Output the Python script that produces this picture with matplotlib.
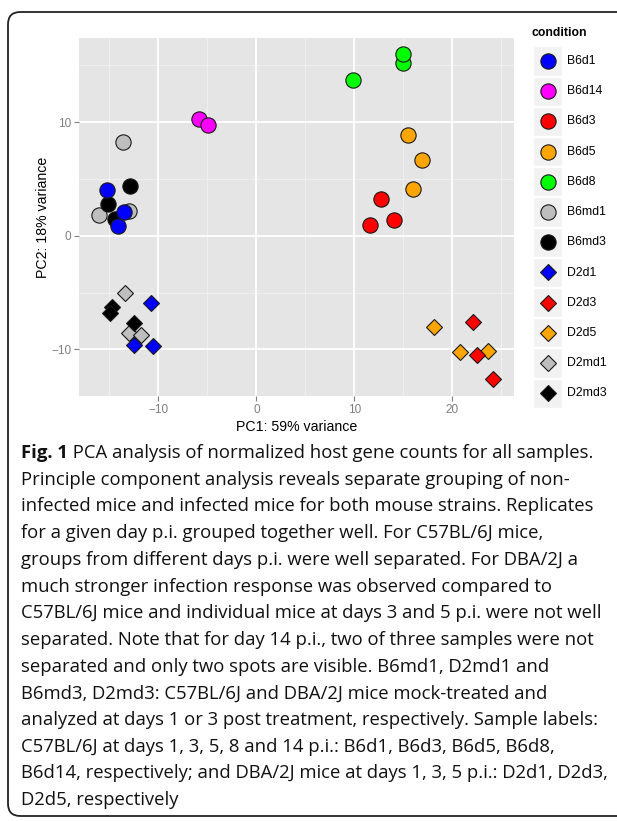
import matplotlib
matplotlib.use("Agg")
import matplotlib.pyplot as plt
from matplotlib.patches import FancyBboxPatch, Rectangle
import numpy as np

# ---------------- data ----------------
conditions = ["B6d1", "B6d14", "B6d3", "B6d5", "B6d8", "B6md1", "B6md3",
              "D2d1", "D2d3", "D2d5", "D2md1", "D2md3"]
colors = {"B6d1": "#0000FF", "B6d14": "#FF00FF", "B6d3": "#FF0000",
          "B6d5": "#FFA500", "B6d8": "#00FF00", "B6md1": "#BEBEBE",
          "B6md3": "#000000", "D2d1": "#0000FF", "D2d3": "#FF0000",
          "D2d5": "#FFA500", "D2md1": "#BEBEBE", "D2md3": "#000000"}
shapes = {c: ("o" if c.startswith("B6") else "D") for c in conditions}

pc1 = {
    "B6md1": [-13.6, -16.1, -13.0],
    "B6md3": [-12.9, -15.1, -14.4],
    "B6d1": [-15.2, -13.5, -14.1],
    "B6d14": [-5.85, -4.9],
    "B6d3": [12.7, 14.1, 11.6],
    "B6d5": [15.5, 16.9, 16.0],
    "B6d8": [15.0, 15.0, 9.9],
    "D2md1": [-13.4, -13.0, -11.8],
    "D2md3": [-14.7, -14.9, -12.5],
    "D2d1": [-10.8, -12.5, -10.5],
    "D2d5": [18.1, 20.8, 23.6],
    "D2d3": [22.1, 22.5, 24.2],
}
pc2 = {
    "B6md1": [8.24, 1.8, 2.2],
    "B6md3": [4.4, 2.76, 1.47],
    "B6d1": [4.0, 2.06, 0.9],
    "B6d14": [10.26, 9.74],
    "B6d3": [3.2, 1.38, 0.91],
    "B6d5": [8.9, 6.66, 4.1],
    "B6d8": [15.16, 15.95, 13.7],
    "D2md1": [-5.07, -8.6, -8.7],
    "D2md3": [-6.3, -6.83, -7.7],
    "D2d1": [-5.95, -9.6, -9.7],
    "D2d5": [-8.06, -10.2, -10.1],
    "D2d3": [-7.56, -10.5, -12.6],
}
draw_order = ["B6md1", "B6md3", "B6d1", "B6d14", "B6d3", "B6d5", "B6d8",
              "D2md1", "D2md3", "D2d1", "D2d5", "D2d3"]

x_ticks = [-10, 0, 10, 20]
y_ticks = [-10, 0, 10]
x_minor = [-15, -5, 5, 15, 25]
y_minor = [-5, 5, 15]
xlabel = "PC1: 59% variance"
ylabel = "PC2: 18% variance"
legend_title = "condition"

caption_bold = "Fig. 1"
caption_lines = [
    " PCA analysis of normalized host gene counts for all samples.",
    "Principle component analysis reveals separate grouping of non-",
    "infected mice and infected mice for both mouse strains. Replicates",
    "for a given day p.i. grouped together well. For C57BL/6J mice,",
    "groups from different days p.i. were well separated. For DBA/2J a",
    "much stronger infection response was observed compared to",
    "C57BL/6J mice and individual mice at days 3 and 5 p.i. were not well",
    "separated. Note that for day 14 p.i., two of three samples were not",
    "separated and only two spots are visible. B6md1, D2md1 and",
    "B6md3, D2md3: C57BL/6J and DBA/2J mice mock-treated and",
    "analyzed at days 1 or 3 post treatment, respectively. Sample labels:",
    "C57BL/6J at days 1, 3, 5, 8 and 14 p.i.: B6d1, B6d3, B6d5, B6d8,",
    "B6d14, respectively; and DBA/2J mice at days 1, 3, 5 p.i.: D2d1, D2d3,",
    "D2d5, respectively",
]

# ---------------- figure ----------------
W, H = 617, 821
fig = plt.figure(figsize=(W / 100, H / 100), dpi=100)
fig.patch.set_facecolor("white")

def fx(px):
    return px / W

def fy(py):
    return 1 - py / H

# rounded border box
box = FancyBboxPatch((fx(8), fy(816)), fx(700), fy(12) - fy(816),
                     boxstyle="round,pad=0,rounding_size=0.02",
                     transform=fig.transFigure, fill=False,
                     edgecolor="#222222", linewidth=1.3, mutation_aspect=W / H)
fig.patches.append(box)

plt.rcParams["font.family"] = ["Liberation Sans", "DejaVu Sans"]

# panel
L, R, T, B = 79, 514, 38, 396
ax = fig.add_axes([fx(L), fy(B), fx(R - L), fy(T) - fy(B)])
ax.set_facecolor("#E5E5E5")
ax.set_xlim(-18.1, 26.3)
ax.set_ylim(-14.1, 17.4)
for v in x_minor:
    ax.axvline(v, color="#F2F2F2", lw=0.6, zorder=0)
for v in y_minor:
    ax.axhline(v, color="#F2F2F2", lw=0.6, zorder=0)
for v in x_ticks:
    ax.axvline(v, color="white", lw=1.3, zorder=0.5)
for v in y_ticks:
    ax.axhline(v, color="white", lw=1.3, zorder=0.5)
for s in ax.spines.values():
    s.set_visible(False)

for c in draw_order:
    ms = 11.0 if shapes[c] == "o" else 8.6
    ax.plot(pc1[c], pc2[c], linestyle="none", marker=shapes[c], ms=ms,
            markerfacecolor=colors[c], markeredgecolor="#1a1a1a",
            markeredgewidth=0.8, zorder=3)

ax.set_xticks(x_ticks)
ax.set_yticks(y_ticks)
ax.tick_params(axis="both", length=3.5, width=0.8, color="#7F7F7F",
               labelcolor="#7F7F7F", labelsize=8.5, pad=2)
ax.set_xlabel(xlabel, fontsize=10.2, color="black", labelpad=3)
ax.set_ylabel(ylabel, fontsize=10.2, color="black", labelpad=1)

# legend (ggplot-style)
lax = fig.add_axes([0, 0, 1, 1], facecolor="none")
lax.set_xlim(0, W)
lax.set_ylim(H, 0)
lax.axis("off")
lax.text(532, 33, legend_title, fontsize=8.8, fontweight="bold",
         ha="left", va="center")
key_top, key_h = 46, 30.2
for i, c in enumerate(conditions):
    yc = key_top + key_h * (i + 0.5)
    lax.add_patch(Rectangle((533, yc - key_h / 2 + 0.5), 29, key_h - 1,
                            facecolor="#F2F2F2", edgecolor="white", lw=1))
    ms = 11.0 if shapes[c] == "o" else 8.6
    lax.plot([547.5], [yc], marker=shapes[c], ms=ms, linestyle="none",
             markerfacecolor=colors[c], markeredgecolor="#1a1a1a",
             markeredgewidth=0.8)
    lax.text(567, yc, c, fontsize=8.8, ha="left", va="center")

# caption
cap_font = ["Open Sans", "DejaVu Sans"]
line0_y = 453
spacing = 26.7
cap_size = 13.3
t0 = lax.text(21, line0_y, caption_bold, fontsize=cap_size, fontweight="bold",
              family=cap_font, ha="left", va="center", color="#111111")
fig.canvas.draw()
bb = t0.get_window_extent(renderer=fig.canvas.get_renderer())
x_after = bb.x1  # pixels
for i, line in enumerate(caption_lines):
    x0 = x_after if i == 0 else 21
    lax.text(x0, line0_y + spacing * i, line, fontsize=cap_size,
             family=cap_font, ha="left", va="center", color="#111111")

fig.savefig("out.png", dpi=100)
